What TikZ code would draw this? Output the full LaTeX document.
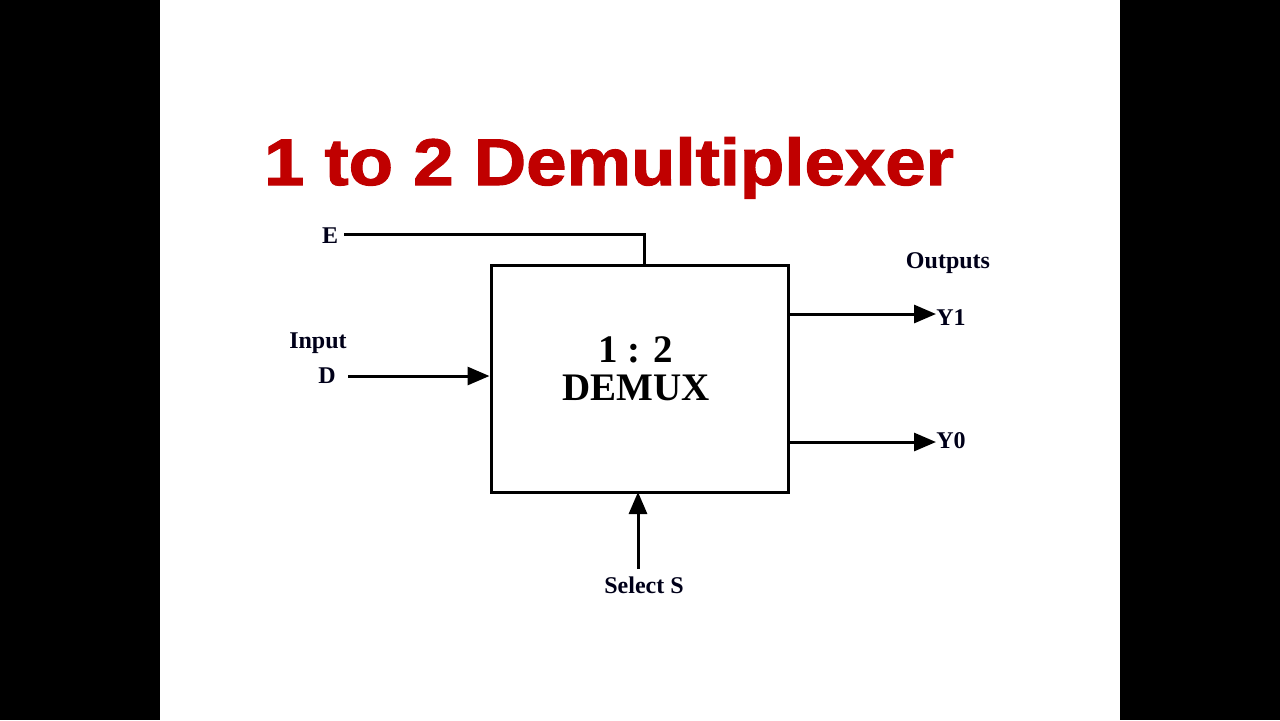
\documentclass[tikz,border=0pt]{standalone}
\usepackage{fontspec}
\setmainfont{Liberation Serif}
\newfontfamily\titlefont[FakeBold=1.6]{Liberation Sans}
\usetikzlibrary{arrows.meta}
\definecolor{titlered}{HTML}{C00000}
\tikzset{
  wire/.style={line width=1.5pt},
  arr/.style={wire,-{Triangle[length=11pt,width=9pt]}},
  lbl/.style={font=\fontsize{12}{14}\selectfont\bfseries, inner sep=0pt, text=black!90!blue},
  blockbox/.style={draw, line width=1.5pt, minimum width=148.5pt, minimum height=113.5pt, inner sep=0pt},
  blocktext/.style={align=center, inner sep=0pt, font=\fontsize{19.5}{19}\selectfont\bfseries}
}
\begin{document}
\begin{tikzpicture}[x=0.5pt,y=-0.5pt]
\useasboundingbox (0,0) rectangle (1280,720);
\fill[black] (0,0) rectangle (1280,720);
\fill[white] (160,0) rectangle (1120,720);
\node[font=\titlefont\fontsize{33}{36}\selectfont\bfseries, text=titlered, inner sep=0pt, anchor=base, xscale=1.10, transform shape] (title) at (609,185) {1 to 2 Demultiplexer};
\node[blockbox] (demux) at (639.5,378.5) {};
\node[blocktext] (demuxText) at (636,369) {1 : 2\\DEMUX};
\node[lbl] (labE) at (330,236) {E};
\node[lbl] (labIn) at (318,343) {Input};
\node[lbl] (labD) at (327,376) {D};
\node[lbl] (labOut) at (948,263) {Outputs};
\node[lbl, anchor=west] (labY1) at (936,318) {Y1};
\node[lbl, anchor=west] (labY0) at (936,441) {Y0};
\node[lbl] (labS) at (644,585) {Select S};
\coordinate (eIn) at (644,265);
\coordinate (y1Out) at (788,314);
\coordinate (y0Out) at (788,442);
\coordinate (sIn) at (638,492);
\draw[wire] (labE.east) ++(6,-2) -| (eIn);
\draw[arr] ([xshift=6pt]labD.east) -- (demux.west |- labD.east);
\draw[arr] (y1Out) -- (labY1.west |- y1Out);
\draw[arr] (y0Out) -- (labY0.west |- y0Out);
\draw[arr] ([yshift=3.5pt]labS.north -| sIn) -- (sIn);
\end{tikzpicture}
\end{document}
